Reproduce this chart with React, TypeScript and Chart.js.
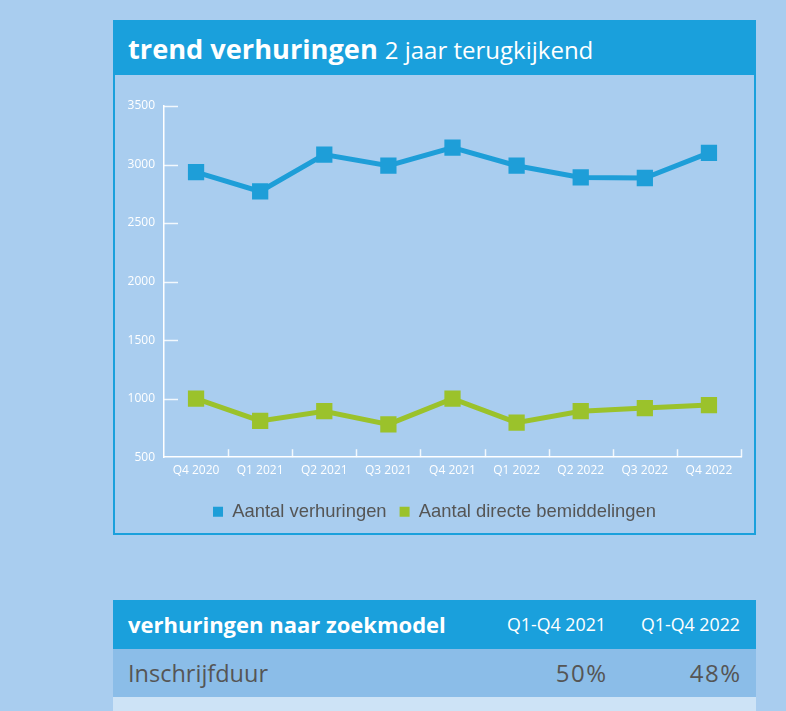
import React, { useEffect, useRef } from "react";
import { Chart, registerables } from "chart.js";

Chart.register(...registerables);

const categories = ["Q4 2020", "Q1 2021", "Q2 2021", "Q3 2021", "Q4 2021", "Q1 2022", "Q2 2022", "Q3 2022", "Q4 2022"];
const verhuringen = [2935, 2770, 3085, 2990, 3145, 2990, 2890, 2885, 3100];
const directeBemiddelingen = [1000, 810, 893, 780, 1000, 795, 893, 920, 945];
const seriesNames = ["Aantal verhuringen", "Aantal directe bemiddelingen"];
const yTicks = { min: 500, max: 3500, step: 500 };

const tableHeader = ["verhuringen naar zoekmodel", "Q1-Q4 2021", "Q1-Q4 2022"];
const tableRows = [["Inschrijfduur", "50%", "48%"]];

const BG = "#a9cdef";
const BLUE = "#1aa0dc";
const LINE_BLUE = "#1e9ed8";
const GREEN = "#9bc22b";
const TITLE_FONT = "'Open Sans', sans-serif";

const tickMarks = {
  id: "tickMarks",
  beforeDatasetsDraw(chart: any) {
    const { ctx } = chart;
    const x = chart.scales.x;
    const y = chart.scales.y;
    ctx.save();
    ctx.strokeStyle = "rgba(255,255,255,0.85)";
    ctx.lineWidth = 1.5;
    y.ticks.forEach((t: any) => {
      if (t.value === yTicks.min) return;
      const py = Math.round(y.getPixelForValue(t.value)) + 0.5;
      ctx.beginPath();
      ctx.moveTo(x.left, py);
      ctx.lineTo(x.left + 14, py);
      ctx.stroke();
    });
    const step = x.getPixelForValue(1) - x.getPixelForValue(0);
    for (let i = 1; i <= categories.length; i++) {
      const px = Math.round(x.getPixelForValue(i) - step / 2) + 0.5;
      ctx.beginPath();
      ctx.moveTo(px, y.bottom);
      ctx.lineTo(px, y.bottom - 8);
      ctx.stroke();
    }
    ctx.restore();
  },
};

function TrendChart() {
  const ref = useRef<HTMLCanvasElement>(null);
  useEffect(() => {
    if (!ref.current) return;
    const tickFont = { family: "'Open Sans', sans-serif", size: 12 };
    const chart = new Chart(ref.current, {
      type: "line",
      data: {
        labels: categories,
        datasets: [
          {
            label: seriesNames[0],
            data: verhuringen,
            borderColor: LINE_BLUE,
            backgroundColor: LINE_BLUE,
            borderWidth: 5,
            pointStyle: "rect",
            pointRadius: 11.5,
            pointBorderWidth: 0,
            pointBackgroundColor: LINE_BLUE,
            tension: 0,
          },
          {
            label: seriesNames[1],
            data: directeBemiddelingen,
            borderColor: GREEN,
            backgroundColor: GREEN,
            borderWidth: 5,
            pointStyle: "rect",
            pointRadius: 11.5,
            pointBorderWidth: 0,
            pointBackgroundColor: GREEN,
            tension: 0,
          },
        ],
      },
      options: {
        animation: false,
        responsive: false,
        maintainAspectRatio: false,
        layout: { padding: { top: 31, right: 0, left: 0, bottom: 0 } },
        scales: {
          x: {
            offset: true,
            grid: { display: false, drawTicks: false },
            border: { display: true, color: "#ffffff", width: 1.5 },
            ticks: { color: "#ffffff", font: tickFont, padding: 6, maxRotation: 0, autoSkip: false },
            afterFit(scale: any) {
              scale.height += 6;
            },
          },
          y: {
            min: yTicks.min,
            max: yTicks.max,
            grid: { display: false, drawTicks: false },
            border: { display: true, color: "#ffffff", width: 1.5 },
            ticks: {
              stepSize: yTicks.step,
              color: "#ffffff",
              font: tickFont,
              padding: 9,
              callback: (v: any) => String(v),
            },
            afterFit(scale: any) {
              scale.width = 49;
            },
          },
          yRight: {
            position: "right",
            display: true,
            grid: { display: false, drawTicks: false },
            border: { display: false },
            ticks: { display: false },
            afterFit(scale: any) {
              scale.width = 13;
            },
          },
        },
        plugins: {
          tooltip: { enabled: false },
          legend: {
            position: "bottom",
            labels: {
              boxWidth: 10,
              boxHeight: 10,
              padding: 13,
              color: "#555555",
              font: { family: "'Liberation Sans', Arial, sans-serif", size: 18.4 },
              generateLabels(c: any) {
                return Chart.defaults.plugins.legend.labels.generateLabels(c).map((l: any) => ({
                  ...l,
                  lineWidth: 0,
                  strokeStyle: "transparent",
                }));
              },
            },
          },
        },
      },
      plugins: [tickMarks],
    });
    return () => chart.destroy();
  }, []);
  return <canvas ref={ref} width={639} height={456} style={{ position: "absolute", left: 115, top: 75, width: 639, height: 456 }} />;
}

export default function App() {
  return (
    <div style={{ position: "fixed", inset: 0, background: BG, overflow: "hidden" }}>
      <div
        style={{
          position: "absolute",
          left: 113,
          top: 20,
          width: 643,
          height: 515,
          boxSizing: "border-box",
          border: `2px solid ${BLUE}`,
        }}
      />
      <div
        style={{
          position: "absolute",
          left: 113,
          top: 20,
          width: 643,
          height: 55,
          background: BLUE,
          color: "#fff",
          fontFamily: TITLE_FONT,
          boxSizing: "border-box",
          paddingLeft: 15,
          paddingTop: 2,
          lineHeight: "53px",
          whiteSpace: "nowrap",
        }}
      >
        <span style={{ fontWeight: 700, fontSize: 27.2 }}>trend verhuringen</span>
        <span style={{ fontWeight: 400, fontSize: 24, marginLeft: 7 }}>2 jaar terugkijkend</span>
      </div>
      <TrendChart />
      <div style={{ position: "absolute", left: 113, top: 600, width: 643, fontFamily: TITLE_FONT }}>
        <div style={{ height: 48.5, background: BLUE, color: "#fff", position: "relative", whiteSpace: "nowrap" }}>
          <span style={{ position: "absolute", left: 15, top: 0, lineHeight: "48px", fontWeight: 700, fontSize: 22 }}>{tableHeader[0]}</span>
          <span style={{ position: "absolute", right: 150, top: 0, lineHeight: "48px", fontSize: 17.8 }}>{tableHeader[1]}</span>
          <span style={{ position: "absolute", right: 16, top: 0, lineHeight: "48px", fontSize: 17.8 }}>{tableHeader[2]}</span>
        </div>
        {tableRows.map((r, i) => (
          <div key={i} style={{ height: 48, background: "#8bbde8", color: "#555", position: "relative", whiteSpace: "nowrap" }}>
            <span style={{ position: "absolute", left: 15, top: 0, lineHeight: "48px", fontSize: 23.5 }}>{r[0]}</span>
            <span style={{ position: "absolute", right: 148.5, top: 0, lineHeight: "48px", fontSize: 24, letterSpacing: 1.5 }}>{r[1]}</span>
            <span style={{ position: "absolute", right: 14.5, top: 0, lineHeight: "48px", fontSize: 24, letterSpacing: 1.5 }}>{r[2]}</span>
          </div>
        ))}
        <div style={{ height: 48, background: "#cde3f6", marginTop: 0.5 }} />
      </div>
    </div>
  );
}
